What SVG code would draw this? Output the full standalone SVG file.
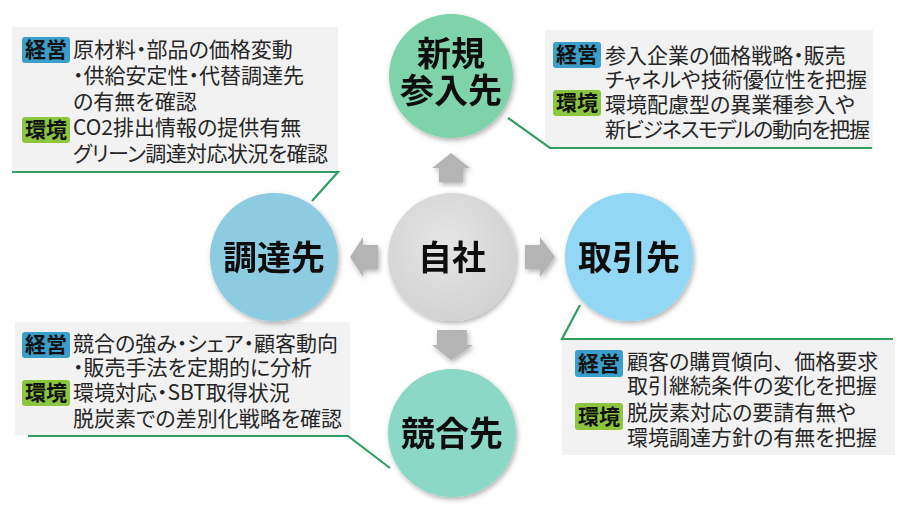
<svg xmlns="http://www.w3.org/2000/svg" width="908" height="508" viewBox="0 0 908 508">
<defs>
<filter id="sh" x="-20%" y="-20%" width="140%" height="140%">
<feDropShadow dx="1.5" dy="2.5" stdDeviation="2.5" flood-color="#000" flood-opacity="0.3"/>
</filter>
<radialGradient id="gGray" cx="45%" cy="40%" r="60%">
<stop offset="0" stop-color="#e6e6e6"/><stop offset="1" stop-color="#d2d2d2"/>
</radialGradient>
</defs>
<style>
.box{fill:#f2f2f2}
.lead{fill:none;stroke:#2f9e63;stroke-width:2.2}
.arr{fill:#b4b4b4;filter:url(#sh)}
.t{font-family:"Noto Sans CJK JP","Noto Sans",sans-serif;font-size:21px;fill:#262626;font-feature-settings:"palt" 1}
.fw{font-feature-settings:normal}
.lbl{font-family:"Noto Sans CJK JP","Noto Sans",sans-serif;font-size:34px;font-weight:700;fill:#111;text-anchor:middle}
.bk{fill:#3b9fcb}
.bg{fill:#8cc63e}
.bt{font-family:"Noto Sans CJK JP","Noto Sans",sans-serif;font-size:21px;font-weight:700;fill:#111;text-anchor:middle}
.node{filter:url(#sh)}
</style>
<rect width="908" height="508" fill="#fff"/>

<g id="box-chotatsu">
<rect class="box" x="12" y="27" width="326" height="145"/>
<rect class="bk" x="22" y="37" width="48" height="26" rx="3"/>
<text class="bt" x="46" y="57">経営</text>
<rect class="bg" x="22" y="117" width="48" height="26" rx="3"/>
<text class="bt" x="46" y="137">環境</text>
<text class="t"><tspan x="73" y="57">原材料・部品の価格変動</tspan><tspan x="73" y="83">・供給安定性・代替調達先</tspan><tspan x="73" y="109">の有無を確認</tspan><tspan x="73" y="135">CO2排出情報の提供有無</tspan><tspan x="73" y="161" textLength="255" lengthAdjust="spacing">グリーン調達対応状況を確認</tspan></text>
</g>

<g id="box-shinki">
<rect class="box" x="545" y="30" width="328" height="118"/>
<rect class="bk" x="553" y="42" width="48" height="26" rx="3"/>
<text class="bt" x="577" y="62">経営</text>
<rect class="bg" x="553" y="90" width="48" height="26" rx="3"/>
<text class="bt" x="577" y="110">環境</text>
<text class="t"><tspan x="605" y="63">参入企業の価格戦略・販売</tspan><tspan x="605" y="87">チャネルや技術優位性を把握</tspan><tspan x="605" y="112">環境配慮型の異業種参入や</tspan><tspan x="605" y="137" textLength="265" lengthAdjust="spacing">新ビジネスモデルの動向を把握</tspan></text>
</g>

<g id="box-kyogo">
<rect class="box" x="15" y="322" width="335" height="113"/>
<rect class="bk" x="22" y="332" width="48" height="26" rx="3"/>
<text class="bt" x="46" y="352">経営</text>
<rect class="bg" x="22" y="380" width="48" height="26" rx="3"/>
<text class="bt" x="46" y="400">環境</text>
<text class="t"><tspan x="73" y="351">競合の強み・シェア・顧客動向</tspan><tspan x="73" y="375">・販売手法を定期的に分析</tspan><tspan x="73" y="400">環境対応・SBT取得状況</tspan><tspan x="73" y="426">脱炭素での差別化戦略を確認</tspan></text>
</g>

<g id="box-torihiki">
<rect class="box" x="562" y="340" width="333" height="115"/>
<rect class="bk" x="575" y="350" width="48" height="27" rx="3"/>
<text class="bt" x="599" y="371">経営</text>
<rect class="bg" x="575" y="403" width="48" height="27" rx="3"/>
<text class="bt" x="599" y="424">環境</text>
<text class="t"><tspan x="627" y="369">顧客の購買傾向<tspan class="fw">、</tspan>価格要求</tspan><tspan x="627" y="393">取引継続条件の変化を把握</tspan><tspan x="627" y="420">脱炭素対応の要請有無や</tspan><tspan x="627" y="445">環境調達方針の有無を把握</tspan></text>
</g>

<g id="connectors">
<polyline class="lead" points="12,172 338,172 312,201"/>
<polyline class="lead" points="508,118 550,148 872,148"/>
<polyline class="lead" points="28,436 348,436 390,468"/>
<polyline class="lead" points="580,305 562,339 893,339"/>
<polygon class="arr" points="451,153 470,168 463,168 463,182 439,182 439,168 432,168"/>
<polygon class="arr" points="451,360 432,345 437,345 437,330 467,330 467,345 473,345"/>
<polygon class="arr" points="350,257 363,237 363,245 378,245 378,269 363,269 363,277"/>
<polygon class="arr" points="555,257 540,237 540,245 525,245 525,269 540,269 540,277"/>
</g>

<g id="node-jisha" class="node">
<circle cx="452" cy="257" r="64" fill="url(#gGray)"/>
<text class="lbl" x="452" y="270">自社</text>
</g>
<g id="node-shinki" class="node">
<circle cx="451" cy="76" r="62" fill="#7fd3aa"/>
<text class="lbl"><tspan x="451" y="66">新規</tspan><tspan x="451" y="103">参入先</tspan></text>
</g>
<g id="node-chotatsu" class="node">
<circle cx="274" cy="257" r="64" fill="#8ccbe0"/>
<text class="lbl" x="274" y="270">調達先</text>
</g>
<g id="node-torihiki" class="node">
<circle cx="629" cy="257" r="64" fill="#92d7f4"/>
<text class="lbl" x="629" y="270">取引先</text>
</g>
<g id="node-kyogo" class="node">
<circle cx="452" cy="433" r="64" fill="#8cd8c6"/>
<text class="lbl" x="452" y="446">競合先</text>
</g>
</svg>
